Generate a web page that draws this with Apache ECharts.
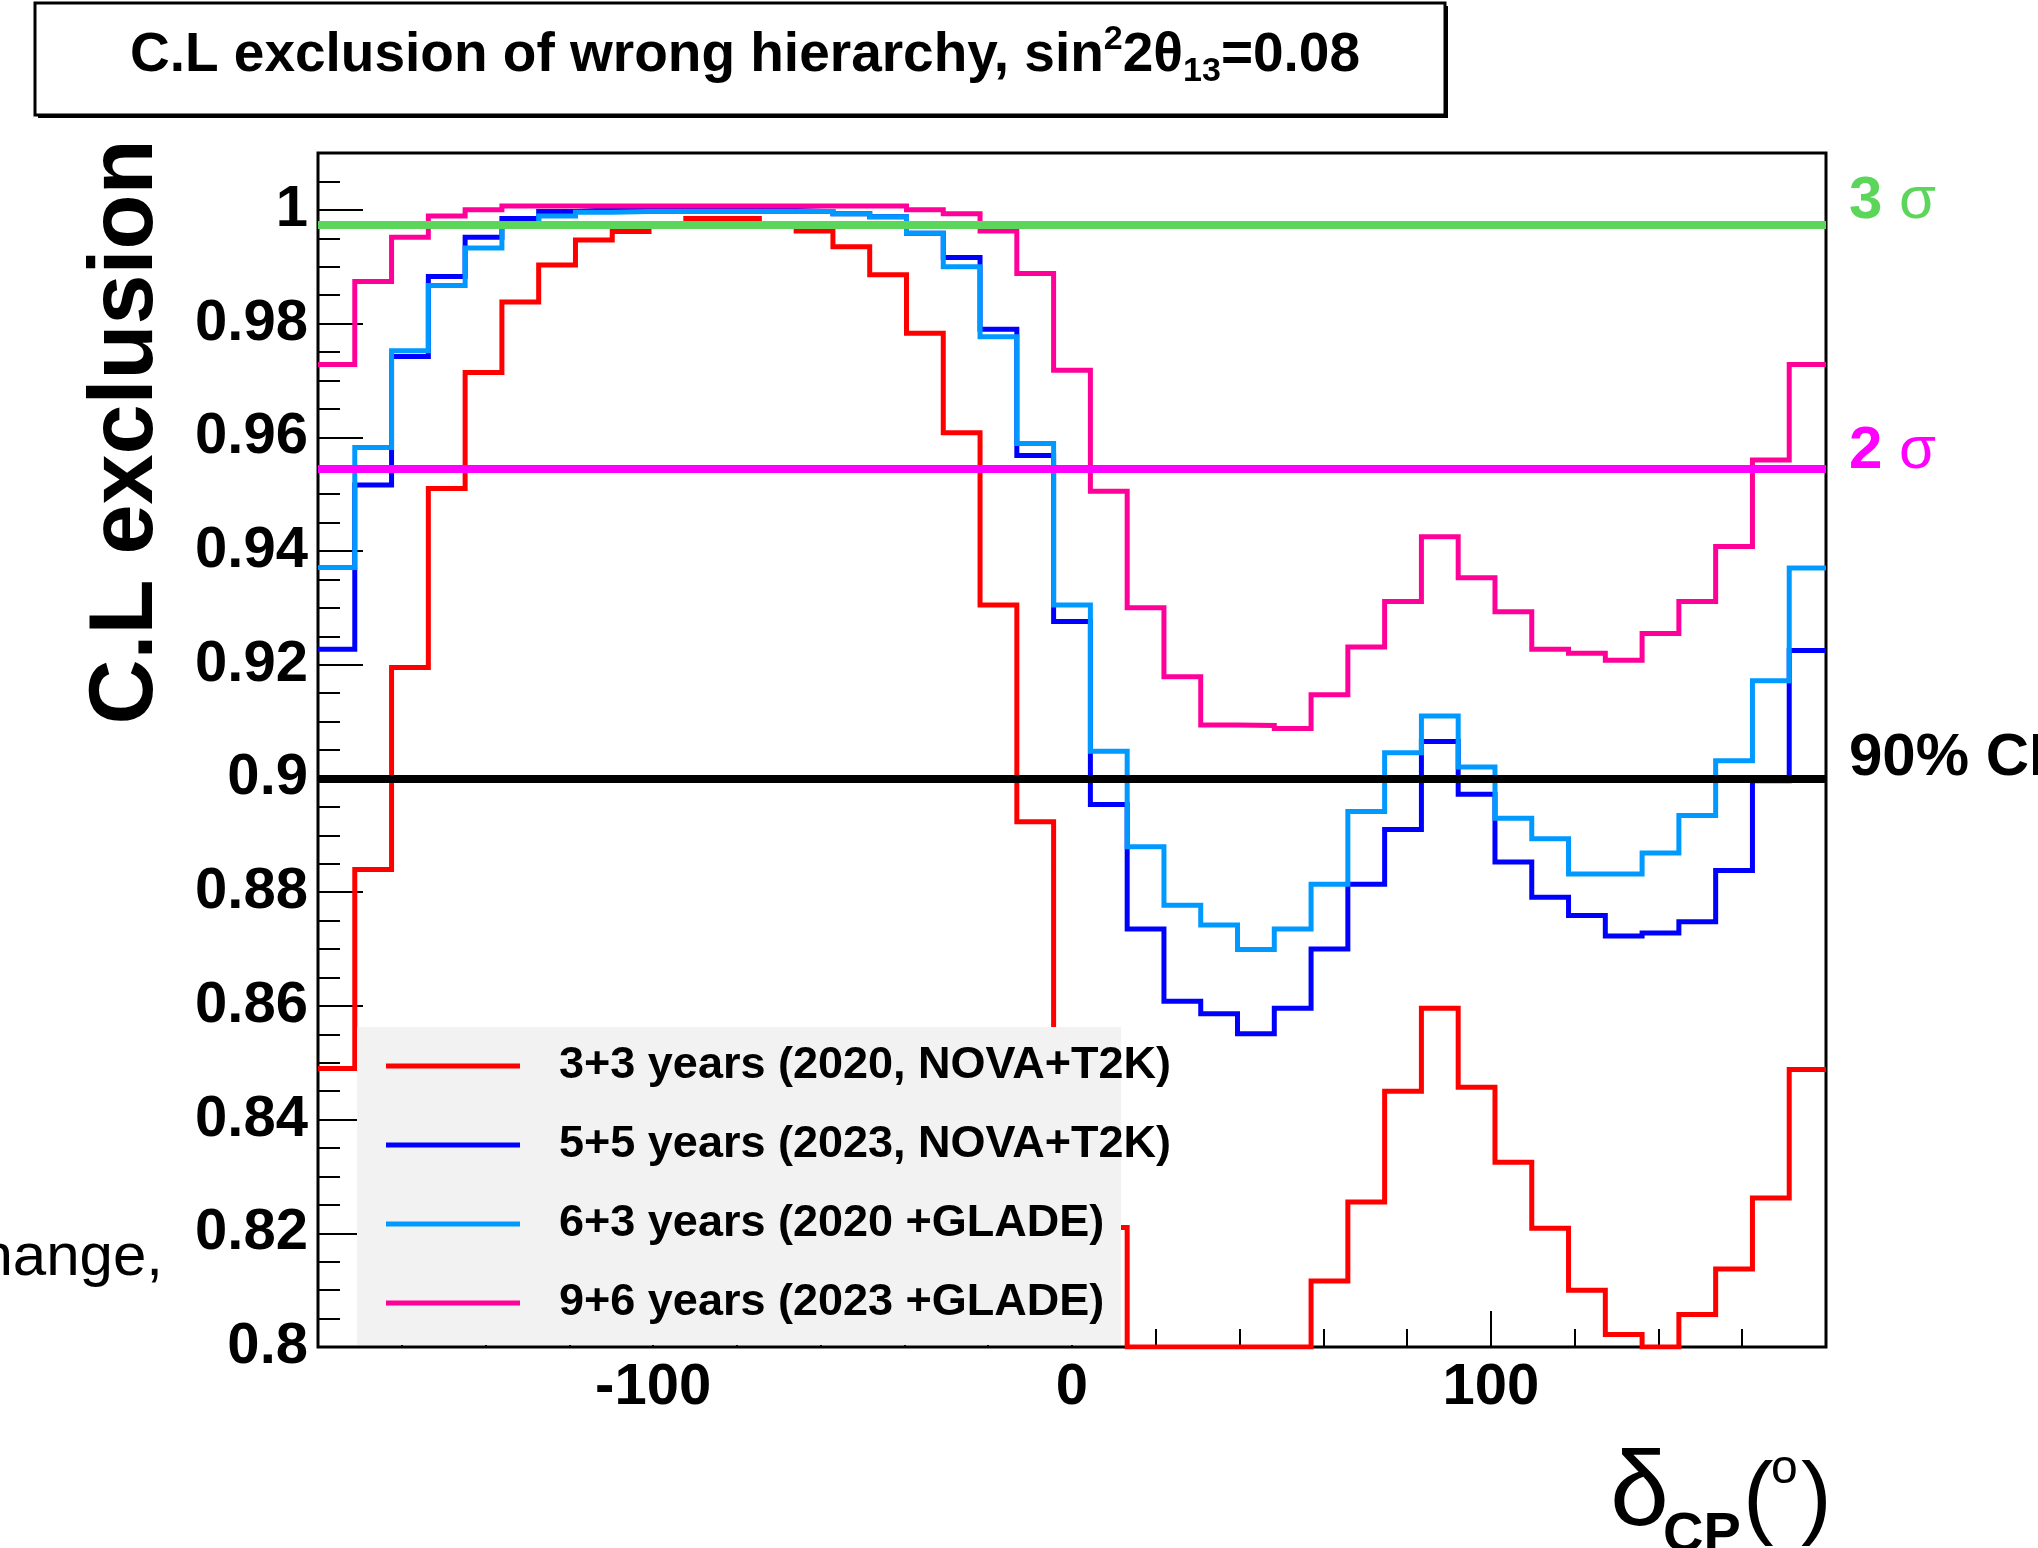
<!DOCTYPE html>
<html>
<head>
<meta charset="utf-8">
<script src="https://cdn.jsdelivr.net/npm/echarts@6/dist/echarts.min.js"></script>
<style>
  html, body { margin: 0; padding: 0; background: #ffffff; overflow: hidden; }
  #chart { width: 2038px; height: 1548px; }
</style>
</head>
<body>
<div id="chart"></div>
<script>
// delta_CP scan: 41 equal bins spanning -180..180 degrees
const DELTA_RANGE = [-180, 180];
const CL_RANGE = [0.8, 1.01];
const X_MAJOR_TICKS = [-100, 0, 100];

const seriesNames = [
  '3+3 years (2020, NOVA+T2K)',
  '5+5 years (2023, NOVA+T2K)',
  '6+3 years (2020 +GLADE)',
  '9+6 years (2023 +GLADE)'
];
const seriesColors = ['#ff0000', '#0000ff', '#0099ff', '#ff0099'];

// C.L. of wrong-hierarchy exclusion per delta_CP bin
const cl33 = [0.849, 0.884, 0.9195, 0.951, 0.9714, 0.9838, 0.9903, 0.9947, 0.9962, 0.9975,
  0.9985, 0.9985, 0.9974, 0.9963, 0.9935, 0.9886, 0.9783, 0.9608, 0.9305, 0.8924,
  0.850, 0.821, 0.8, 0.8, 0.8, 0.8, 0.8, 0.8116, 0.8255, 0.845,
  0.8596, 0.8457, 0.8325, 0.8209, 0.810, 0.8022, 0.8, 0.8057, 0.8137, 0.8262, 0.8488];
const cl55 = [0.9227, 0.9516, 0.9742, 0.9883, 0.9952, 0.9985, 0.9997, 1.0, 1.0, 1.0,
  1.0, 1.0, 0.9999, 0.9997, 0.9993, 0.9988, 0.9959, 0.9916, 0.979, 0.9568,
  0.9276, 0.8954, 0.8735, 0.8608, 0.8586, 0.8551, 0.8596, 0.870, 0.8814, 0.891,
  0.9065, 0.8972, 0.8853, 0.8791, 0.8759, 0.8723, 0.8728, 0.8748, 0.8838, 0.8996, 0.9225];
const cl63 = [0.9371, 0.9582, 0.9752, 0.9867, 0.9933, 0.9975, 0.9989, 0.9996, 0.9997, 0.9997,
  0.9997, 0.9997, 0.9997, 0.9997, 0.9993, 0.9988, 0.9959, 0.990, 0.9777, 0.9589,
  0.9305, 0.9048, 0.888, 0.8777, 0.8742, 0.8699, 0.8735, 0.8814, 0.8942, 0.9045,
  0.911, 0.902, 0.893, 0.8894, 0.8832, 0.8832, 0.8869, 0.8935, 0.9031, 0.9172, 0.937];
const cl96 = [0.9728, 0.9874, 0.9952, 0.9989, 1.0, 1.0007, 1.0007, 1.0007, 1.0007, 1.0007,
  1.0007, 1.0007, 1.0007, 1.0007, 1.0007, 1.0007, 1.0, 0.9993, 0.9963, 0.9888,
  0.9718, 0.9505, 0.930, 0.9179, 0.9094, 0.9093, 0.9088, 0.9147, 0.9231, 0.9311,
  0.9425, 0.9353, 0.9293, 0.9227, 0.922, 0.9208, 0.9255, 0.9311, 0.9408, 0.956, 0.9728];

// reference significance levels
const refLevels = [0.9973, 0.9545, 0.9];
const refLabels = ['{n|3 }{g|σ}', '{n|2 }{g|σ}', '{n|90% CL}'];
const refColors = ['#5bd65b', '#ff00ff', '#000000'];
const refRaise = [24, 17, 20];

const FONT = '"Liberation Sans", Arial, Helvetica, sans-serif';

// histogram outline: one point at every bin's low edge plus the closing edge
function histOutline(values) {
  const w = (DELTA_RANGE[1] - DELTA_RANGE[0]) / values.length;
  const pts = values.map((v, i) => [DELTA_RANGE[0] + i * w, v]);
  pts.push([DELTA_RANGE[1], values[values.length - 1]]);
  return pts;
}

const histValues = [cl33, cl55, cl63, cl96];

const histSeries = histValues.map((vals, i) => ({
  name: seriesNames[i],
  type: 'line',
  step: 'end',
  data: histOutline(vals),
  xAxisIndex: 0,
  yAxisIndex: 0,
  showSymbol: false,
  symbol: 'none',
  color: seriesColors[i],
  itemStyle: { color: seriesColors[i] },
  lineStyle: { color: seriesColors[i], width: 5, join: 'miter' },
  clip: true,
  silent: true,
  emphasis: { disabled: true },
  z: 2
}));

const levelSeries = {
  name: 'levels',
  type: 'line',
  data: [],
  xAxisIndex: 0,
  yAxisIndex: 0,
  silent: true,
  markLine: {
    silent: true,
    symbol: ['none', 'none'],
    precision: 4,
    animation: false,
    z: 5,
    data: refLevels.map((lv, i) => ({
      yAxis: lv,
      lineStyle: { color: refColors[i], width: 8, type: 'solid' },
      label: {
        show: true,
        position: 'end',
        distance: 23,
        formatter: refLabels[i],
        padding: [0, 0, refRaise[i] * 2, 0],
        rich: {
          n: { fontSize: 60, fontWeight: 'bold', color: refColors[i], fontFamily: FONT },
          g: { fontSize: 60, fontWeight: 'normal', color: refColors[i], fontFamily: FONT }
        }
      }
    }))
  }
};

const tickLine = { color: '#000000', width: 2 };
const labelFont = { color: '#000000', fontSize: 58, fontWeight: 'bold', fontFamily: FONT };
const noLine = { show: false, onZero: false };

const option = {
  animation: false,
  backgroundColor: '#ffffff',
  textStyle: { fontFamily: FONT },
  grid: {
    left: 318, top: 153, width: 1508, height: 1194,
    show: true, borderColor: '#000000', borderWidth: 3,
    backgroundColor: 'transparent', containLabel: false
  },
  xAxis: [
    {
      type: 'value', min: DELTA_RANGE[0], max: DELTA_RANGE[1], position: 'bottom',
      axisLine: noLine, splitLine: { show: false },
      axisTick: { show: true, inside: true, length: 36, customValues: X_MAJOR_TICKS, lineStyle: tickLine },
      axisLabel: Object.assign({ show: true, customValues: X_MAJOR_TICKS, margin: 12 }, labelFont)
    },
    {
      type: 'value', min: DELTA_RANGE[0], max: DELTA_RANGE[1], interval: 20, position: 'bottom',
      axisLine: noLine, splitLine: { show: false },
      axisTick: { show: true, inside: true, length: 18, lineStyle: tickLine },
      axisLabel: { show: false }
    }
  ],
  yAxis: [
    {
      type: 'value', min: CL_RANGE[0], max: CL_RANGE[1], interval: 0.02, position: 'left',
      axisLine: noLine, splitLine: { show: false },
      axisTick: { show: true, inside: true, length: 45, lineStyle: tickLine },
      axisLabel: Object.assign({
        show: true, margin: 10, showMaxLabel: false,
        formatter: v => String(+v.toFixed(3))
      }, labelFont)
    },
    {
      type: 'value', min: CL_RANGE[0], max: CL_RANGE[1], interval: 0.005, position: 'left',
      axisLine: noLine, splitLine: { show: false },
      axisTick: { show: true, inside: true, length: 22, lineStyle: tickLine },
      axisLabel: { show: false }
    }
  ],
  legend: {
    data: seriesNames,
    orient: 'vertical',
    left: 357, top: 1027,
    padding: [15, 0, 20, 29],
    itemGap: 31,
    itemWidth: 134,
    itemHeight: 5,
    icon: 'rect',
    selectedMode: false,
    backgroundColor: 'transparent',
    formatter: name => '{t|' + name + '}',
    textStyle: {
      color: '#000000', fontSize: 45, fontWeight: 'bold', fontFamily: FONT, lineHeight: 48,
      rich: { t: { color: '#000000', fontSize: 45, fontWeight: 'bold', fontFamily: FONT, lineHeight: 48, padding: [0, 0, 0, 34] } }
    },
    z: 4
  },
  graphic: [
    // legend panel
    { type: 'rect', z: 3, silent: true,
      shape: { x: 357, y: 1027, width: 764, height: 318 },
      style: { fill: '#f2f2f2' } },
    // title pave
    { type: 'rect', z: 10, silent: true,
      shape: { x: 38, y: 6, width: 1410, height: 112 },
      style: { fill: '#000000' } },
    { type: 'rect', z: 10, silent: true,
      shape: { x: 35, y: 3, width: 1410, height: 112 },
      style: { fill: '#ffffff', stroke: '#000000', lineWidth: 3 } },
    { type: 'text', z: 11, silent: true, x: 745, y: 56,
      style: {
        text: '{m|C.L exclusion of wrong hierarchy, sin}{sup|2}{m|2θ}{sub|13}{m|=0.08}',
        align: 'center', verticalAlign: 'middle',
        textAlign: 'center', textVerticalAlign: 'middle',
        rich: {
          m: { fontSize: 55, fontWeight: 'bold', fontFamily: FONT, fill: '#000', color: '#000', lineHeight: 66, verticalAlign: 'middle' },
          sup: { fontSize: 34, fontWeight: 'bold', fontFamily: FONT, fill: '#000', color: '#000', lineHeight: 34, verticalAlign: 'top' },
          sub: { fontSize: 34, fontWeight: 'bold', fontFamily: FONT, fill: '#000', color: '#000', lineHeight: 34, verticalAlign: 'bottom', padding: [10, 0, 0, 0] }
        }
      } },
    // y axis title
    { type: 'text', z: 11, silent: true, x: 127, y: 432, rotation: Math.PI / 2,
      style: {
        text: 'C.L exclusion', fill: '#000000',
        font: 'bold 90px ' + FONT,
        align: 'center', verticalAlign: 'middle',
        textAlign: 'center', textVerticalAlign: 'middle'
      } },
    // x axis title: delta_CP (deg)
    { type: 'text', z: 11, silent: true, x: 1610, y: 1549,
      style: { text: 'δ', fill: '#000', font: 'normal 106px ' + FONT, align: 'left', verticalAlign: 'bottom', textAlign: 'left', textVerticalAlign: 'bottom' } },
    { type: 'text', z: 11, silent: true, x: 1663, y: 1564,
      style: { text: 'CP', fill: '#000', font: 'bold 56px ' + FONT, align: 'left', verticalAlign: 'bottom', textAlign: 'left', textVerticalAlign: 'bottom' } },
    { type: 'text', z: 11, silent: true, x: 1743, y: 1548,
      style: { text: '(', fill: '#000', font: 'normal 92px ' + FONT, align: 'left', verticalAlign: 'bottom', textAlign: 'left', textVerticalAlign: 'bottom' } },
    { type: 'text', z: 11, silent: true, x: 1771, y: 1494,
      style: { text: 'o', fill: '#000', font: 'normal 48px ' + FONT, align: 'left', verticalAlign: 'bottom', textAlign: 'left', textVerticalAlign: 'bottom' } },
    { type: 'text', z: 11, silent: true, x: 1801, y: 1548,
      style: { text: ')', fill: '#000', font: 'normal 92px ' + FONT, align: 'left', verticalAlign: 'bottom', textAlign: 'left', textVerticalAlign: 'bottom' } },
    // caption fragment at the left margin
    { type: 'text', z: 11, silent: true, x: 163, y: 1258,
      style: { text: 'change,', fill: '#000', font: 'normal 60px ' + FONT, align: 'right', verticalAlign: 'middle', textAlign: 'right', textVerticalAlign: 'middle' } }
  ],
  series: histSeries.concat([levelSeries])
};

const chart = echarts.init(document.getElementById('chart'), null, { renderer: 'canvas', width: 2038, height: 1548 });
chart.setOption(option);
</script>
</body>
</html>
